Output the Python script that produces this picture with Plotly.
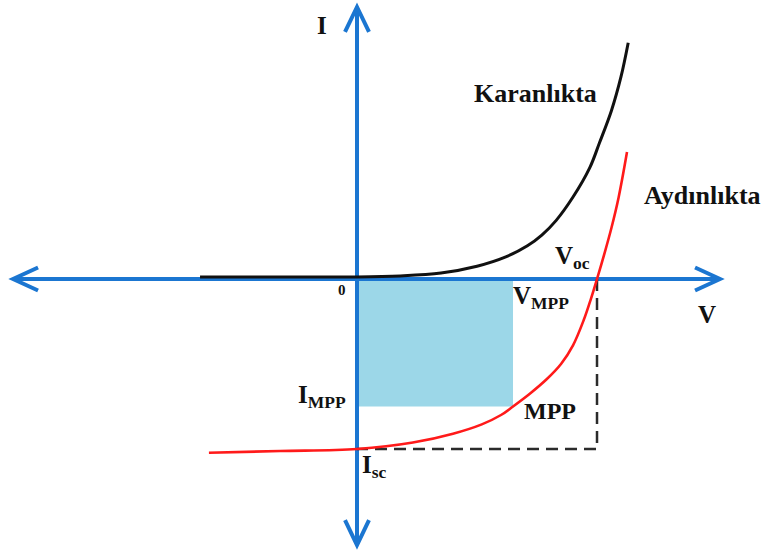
import plotly.graph_objects as go

# Normalised solar-cell I-V characteristics (V / Voc, I / Isc)
V_dark = [-0.654, -0.30, 0.0, 0.18, 0.35, 0.50, 0.62, 0.71, 0.77, 0.83, 0.90, 0.97, 1.01, 1.06, 1.10, 1.13]
I_dark = [0.012, 0.012, 0.012, 0.018, 0.035, 0.075, 0.13, 0.195, 0.258, 0.345, 0.482, 0.655, 0.80, 0.99, 1.19, 1.39]

V_light = [-0.617, -0.32, 0.0, 0.233, 0.40, 0.52, 0.60, 0.65, 0.72, 0.79, 0.85, 0.90, 0.945, 0.975, 1.0, 1.03, 1.06, 1.09, 1.125]
I_light = [-1.022, -1.012, -1.0, -0.962, -0.91, -0.855, -0.80, -0.75, -0.675, -0.59, -0.50, -0.39, -0.24, -0.115, 0.0, 0.145, 0.30, 0.48, 0.747]

V_OC = 1.0
I_SC = -1.0
V_MPP = 0.65
I_MPP = -0.75

X_RANGE = [-1.4875, 1.7083]
Y_RANGE = [-1.6059, 1.6412]

AXIS_BLUE = "#1B76D1"
FILL_BLUE = "#9CD7E8"
SERIF = "Liberation Serif"

fig = go.Figure()

# power rectangle (0,0)-(Vmpp, Impp)
fig.add_shape(type="rect", x0=0, y0=0, x1=V_MPP, y1=I_MPP,
              fillcolor=FILL_BLUE, line=dict(width=0), layer="below")

# coordinate axes with open arrow heads
ax_l, ax_r = -1.433, 1.5125
ax_b, ax_t = -1.565, 1.60
hx, hy = 0.104, 0.068      # head size on horizontal arrows
vx, vy = 0.050, 0.147      # head size on vertical arrows
axis_line = dict(color=AXIS_BLUE, width=4)
for x0, y0, x1, y1 in [
    (ax_l, 0, ax_r, 0),
    (0, ax_b, 0, ax_t),
]:
    fig.add_shape(type="line", x0=x0, y0=y0, x1=x1, y1=y1, line=axis_line, layer="below")
for path in [
    f"M {ax_r - hx} {hy} L {ax_r} 0 L {ax_r - hx} {-hy}",
    f"M {ax_l + hx} {hy} L {ax_l} 0 L {ax_l + hx} {-hy}",
    f"M {-vx} {ax_t - vy} L 0 {ax_t} L {vx} {ax_t - vy}",
    f"M {-vx} {ax_b + vy} L 0 {ax_b} L {vx} {ax_b + vy}",
]:
    fig.add_shape(type="path", path=path, line=axis_line, layer="below")

# Voc / Isc guide
fig.add_trace(go.Scatter(
    x=[V_OC, V_OC, 0], y=[0, I_SC, I_SC], mode="lines",
    line=dict(color="#2b2b2b", width=2.5, dash="12px,7px"), hoverinfo="skip"))

# illuminated curve
fig.add_trace(go.Scatter(
    x=V_light, y=I_light, mode="lines",
    line=dict(color="#FF1A1A", width=2.6, shape="spline", smoothing=1.0), hoverinfo="skip"))

# dark curve
fig.add_trace(go.Scatter(
    x=V_dark, y=I_dark, mode="lines",
    line=dict(color="#111111", width=3, shape="spline", smoothing=1.0), hoverinfo="skip"))


def label(text, x, y, size=25, xanchor="center"):
    fig.add_annotation(x=x, y=y, text=text, showarrow=False,
                       xanchor=xanchor, yanchor="middle",
                       font=dict(family=SERIF, size=size, color="#111111", weight="bold"))


label("I", -0.146, 1.494)
label("V", 1.457, -0.21)
label("0", -0.0625, -0.065, size=15)
label("Karanlıkta", 0.744, 1.094, size=26)
label("Aydınlıkta", 1.4375, 0.494, size=26)
label("V<sub>oc</sub>", 0.817, 0.125, xanchor="left")
label("V<sub>MPP</sub>", 0.64, -0.11, xanchor="left")
label("I<sub>MPP</sub>", -0.255, -0.69, xanchor="left")
label("MPP", 0.804, -0.776, size=24)
label("I<sub>sc</sub>", 0.014, -1.10, xanchor="left")

fig.update_layout(
    width=767, height=552,
    margin=dict(l=0, r=0, t=0, b=0),
    paper_bgcolor="white", plot_bgcolor="white",
    showlegend=False,
    xaxis=dict(range=X_RANGE, visible=False, fixedrange=True),
    yaxis=dict(range=Y_RANGE, visible=False, fixedrange=True),
)

fig.write_html("out.html")
